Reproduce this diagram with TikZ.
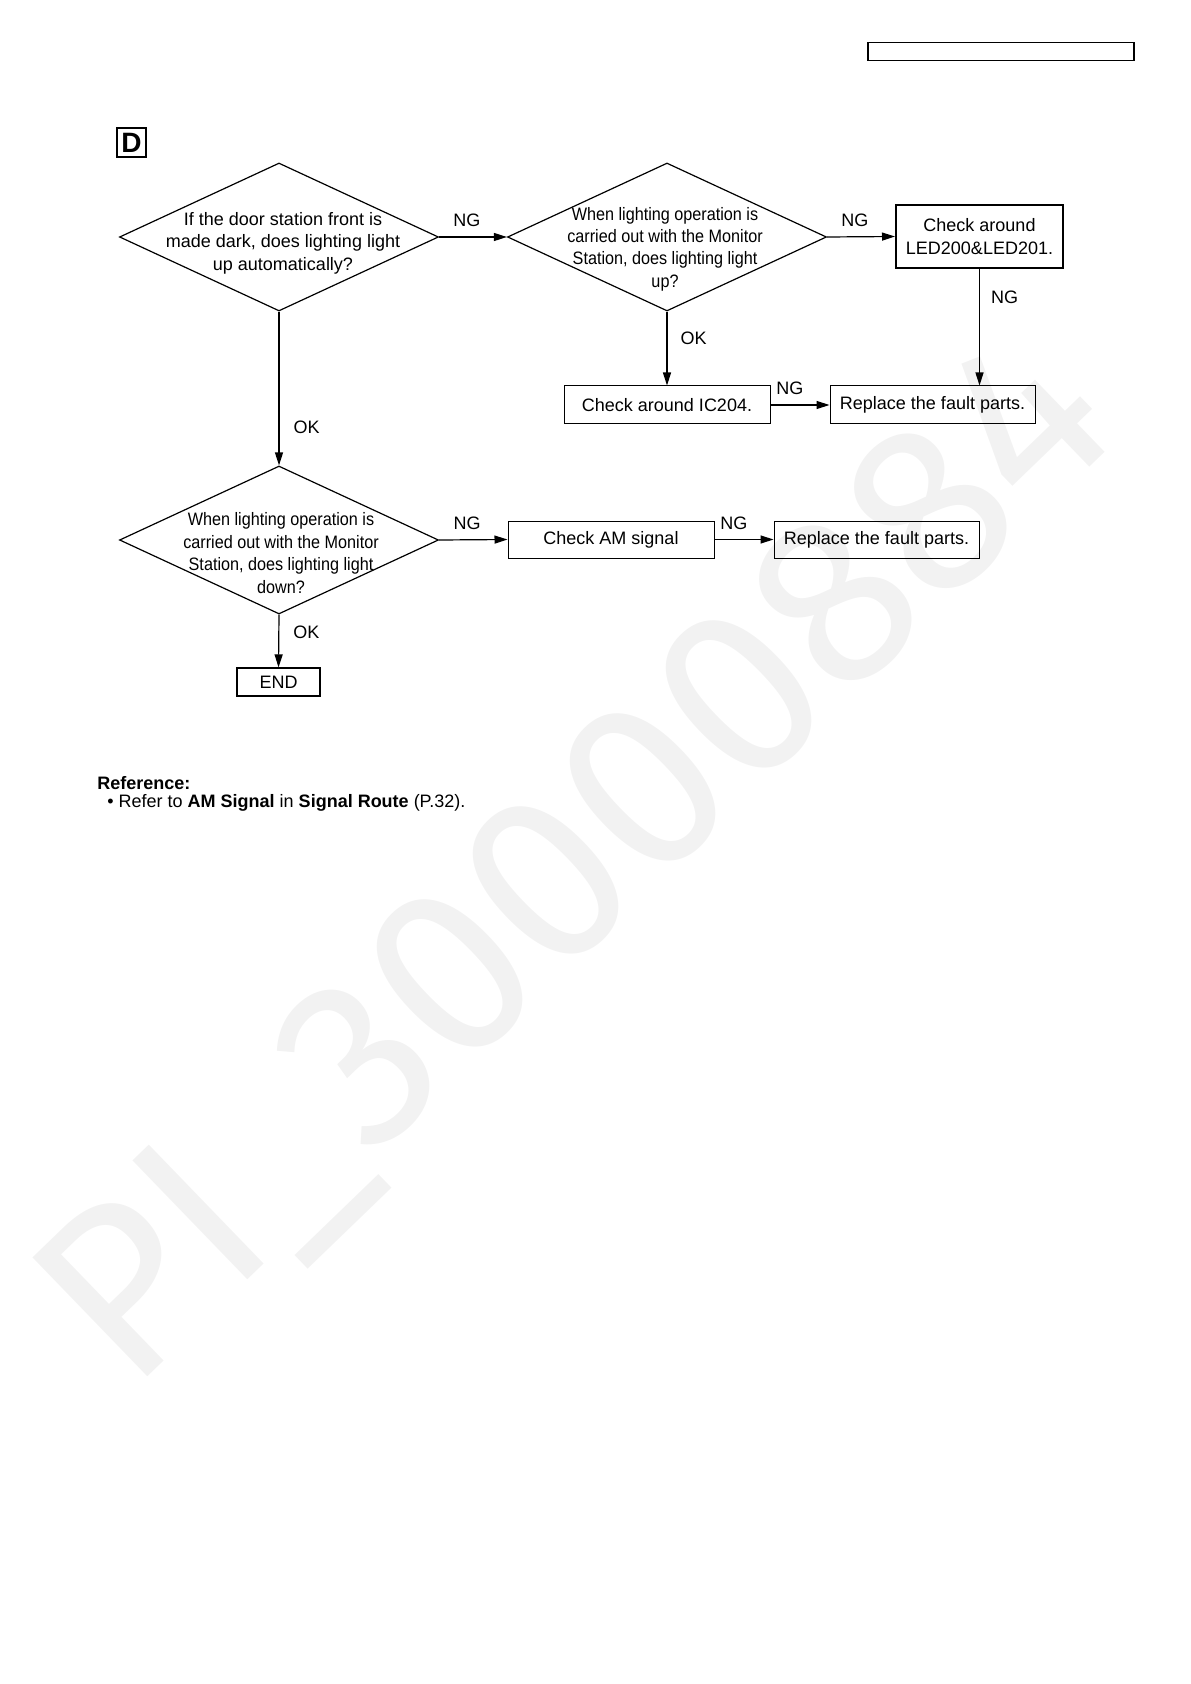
\documentclass[tikz,border=0pt]{standalone}
\usepackage{fontspec}
\setmainfont{Liberation Sans}
\newfontfamily\narrowsans[FakeStretch=0.9]{Liberation Sans}
\newfontfamily\markfont{Fira Sans}
\usetikzlibrary{shapes.geometric, arrows.meta}

\begin{document}
\begin{tikzpicture}[x=0.5pt, y=-0.5pt,
    font=\fontsize{9}{11.2}\selectfont,
    every node/.style={inner sep=0pt},
    decision/.style={draw, diamond, line width=0.6pt, minimum width=159.5pt, minimum height=74pt},
    question/.style={align=center, font=\narrowsans\fontsize{9}{11.2}\selectfont},
    stepbox/.style={draw, line width=0.5pt, minimum height=19pt, align=center},
    flow/.style={-{Triangle[length=6.5pt,width=4pt]}, line width=0.6pt}]
    \useasboundingbox (0,0) rectangle (1190,1684);

    % watermark
    \node[rotate=44, text=black!5, font=\markfont\fontsize{120}{120}\selectfont] (mark) at (582,866) {PI\_30000884};

    % page header
    \node[draw, line width=0.6pt, minimum width=133pt, minimum height=9pt] (hdr) at (1001,51.5) {};
    \node[draw, line width=1pt, minimum size=14.5pt, font=\fontsize{14}{14}\selectfont\bfseries] (sec) at (131.5,142.5) {D};

    % questions
    \node[decision] (q1) at (279,237) {};
    \node[align=center] at (283,243) {If the door station front is\\made dark, does lighting light\\up automatically?};
    \node[decision] (q2) at (667,237) {};
    \node[question] at (665,249) {When lighting operation is\\carried out with the Monitor\\Station, does lighting light\\up?};
    \node[decision] (q3) at (279,540) {};
    \node[question] at (281,553) {When lighting operation is\\carried out with the Monitor\\Station, does lighting light\\down?};

    % actions
    \node[stepbox, line width=1pt, minimum width=83.5pt, minimum height=31.5pt] (led) at (979.5,236.5) {Check around\\LED200\&LED201.};
    \node[stepbox, minimum width=103pt] (ic) at (667,405) {Check around IC204.};
    \node[stepbox, minimum width=102.5pt] (rep1) at (932.5,405) {Replace the fault parts.};
    \node[stepbox, minimum width=103pt, minimum height=18.5pt] (am) at (611,539.5) {Check AM signal};
    \node[stepbox, minimum width=102.5pt, minimum height=18.5pt] (rep2) at (876.5,539.5) {Replace the fault parts.};
    \node[stepbox, line width=0.6pt, minimum width=41.5pt, minimum height=14pt] (stop) at (278.5,682) {END};

    % connectors
    \draw[flow] (q1.east) -- node[pos=0.41, above=4.75pt] {NG} (q2.west);
    \draw[flow] (q2.east) -- node[pos=0.41, above=4.75pt] {NG} (led.west);
    \draw[flow] (led.south) -- node[pos=0.24, right=5.5pt] {NG} (led.south |- rep1.north);
    \draw[flow] (q2.south) -- node[pos=0.36, right=6.5pt] {OK} (ic.north);
    \draw[flow] (ic.east) -- node[pos=0.33, above=4.75pt] {NG} (rep1.west);
    \draw[flow] (q1.south) -- node[pos=0.75, right=7pt] {OK} (q3.north);
    \draw[flow] (q3.east) -- node[pos=0.41, above=4.75pt] {NG} (am.west);
    \draw[flow] (am.east) -- node[pos=0.33, above=4.75pt] {NG} (rep2.west);
    \draw[flow] (q3.south) -- node[pos=0.33, right=7pt] {OK} (stop.north);

    % note
    \node[anchor=west, font=\fontsize{9}{11}\selectfont\bfseries] (ref) at (97,783) {Reference:};
    \node[anchor=west] (refitem) at (107,803) {\textbullet\ Refer to \textbf{AM Signal} in \textbf{Signal Route} (P.32).};
\end{tikzpicture}
\end{document}
